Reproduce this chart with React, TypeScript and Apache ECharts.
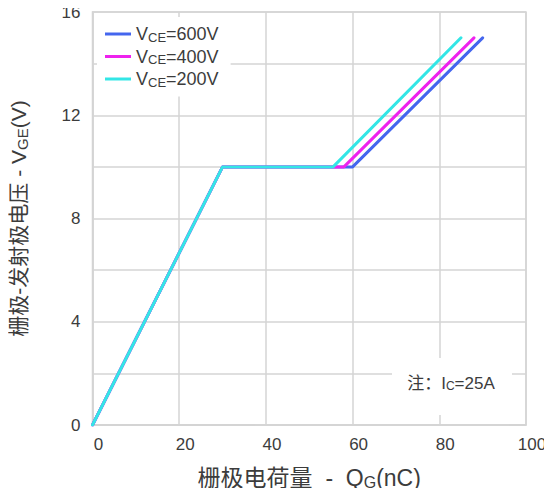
import React, { useEffect, useRef } from "react";
import * as echarts from "echarts";

const seriesNames = ["600", "400", "200"];
const seriesColors = ["#4466ee", "#ee22ee", "#33e6e6"];
const vce600: [number, number][] = [[0, 0], [30, 10], [60, 10], [90, 15]];
const vce400: [number, number][] = [[0, 0], [30, 10], [58, 10], [88, 15]];
const vce200: [number, number][] = [[0, 0], [30, 10], [55.5, 10], [85, 15]];
const xTicks = [0, 20, 40, 60, 80, 100];
const yLabelValues = [0, 4, 8, 12, 16];

const TEXT = "#3c3c3c";
const GRIDC = "#d4d4d4";

export default function App() {
  const ref = useRef<HTMLDivElement>(null);
  useEffect(() => {
    if (!ref.current) return;
    const chart = echarts.init(ref.current, undefined, { renderer: "svg" });
    const datasets = [vce600, vce400, vce200];
    const subStyle = { fontSize: 12, fontFamily: "Liberation Sans, Arial, sans-serif", color: TEXT, padding: [7, 0, 0, 0] };
    chart.setOption({
      animation: false,
      backgroundColor: "#fff",
      textStyle: { fontFamily: "Liberation Sans, Arial, Noto Sans CJK SC, sans-serif" },
      grid: {
        left: 92, right: 26, top: 12, bottom: 71,
        show: true, borderColor: GRIDC, borderWidth: 1.5, backgroundColor: "transparent",
      },
      legend: {
        orient: "vertical",
        left: 97, top: 17,
        backgroundColor: "#fff",
        padding: [8, 12, 8, 8],
        itemWidth: 26, itemHeight: 3, itemGap: 4,
        icon: "rect",
        data: seriesNames,
        formatter: (n: string) => `V{sub|CE}=${n}V`,
        textStyle: {
          fontSize: 18, color: TEXT, lineHeight: 18,
          fontFamily: "Liberation Sans, Arial, sans-serif",
          rich: { sub: { ...subStyle, fontSize: 13, padding: [6, 0, 0, 0] } },
        },
      },
      xAxis: {
        type: "value", min: 0, max: 100, interval: 20,
        axisLine: { show: true, lineStyle: { color: GRIDC, width: 1.5 } },
        axisTick: { show: false },
        splitLine: { show: true, lineStyle: { color: GRIDC, width: 1.5 } },
        axisLabel: {
          color: TEXT, fontSize: 17, margin: 11, padding: [0, 0, 0, 12],
          formatter: (v: number) => (xTicks.includes(v) ? String(v) : ""),
        },
        name: "栅极电荷量  -  Q{sub|G}(nC)",
        nameLocation: "middle", nameGap: 41,
        nameTextStyle: {
          fontSize: 23, color: TEXT,
          fontFamily: "Liberation Sans, Arial, Noto Sans CJK SC, sans-serif",
          rich: { sub: { ...subStyle, fontSize: 16, padding: [8, 0, 0, 0] } },
        },
      },
      yAxis: {
        type: "value", min: 0, max: 16, interval: 2,
        axisLine: { show: true, lineStyle: { color: GRIDC, width: 1.5 } },
        axisTick: { show: false },
        splitLine: { show: true, lineStyle: { color: GRIDC, width: 1.5 } },
        axisLabel: {
          color: TEXT, fontSize: 17, margin: 12,
          formatter: (v: number) => (yLabelValues.includes(v) ? String(v) : ""),
        },
        name: "栅极-发射极电压 - V{sub|GE}(V)",
        nameLocation: "middle", nameGap: 63, nameRotate: 90,
        nameTextStyle: {
          fontSize: 21, color: TEXT,
          fontFamily: "Liberation Sans, Arial, Noto Sans CJK SC, sans-serif",
          rich: { sub: { ...subStyle, fontSize: 15, padding: [7, 0, 0, 0] } },
        },
      },
      series: seriesNames.map((n, i) => ({
        name: n,
        type: "line",
        data: datasets[i],
        showSymbol: false,
        symbol: "none",
        color: seriesColors[i],
        lineStyle: { width: 3, color: seriesColors[i], cap: "round", join: "round" },
        z: 3 + i,
      })),
      graphic: [
        {
          type: "rect", z: 10,
          shape: { x: 392, y: 358, width: 120, height: 57 },
          style: { fill: "#fff" },
        },
        {
          type: "text", z: 11, x: 451, y: 383,
          style: {
            text: "注：I{sub|C}=25A",
            fontSize: 17, fill: TEXT, align: "center", verticalAlign: "middle",
            fontFamily: "Liberation Sans, Arial, Noto Sans CJK SC, sans-serif",
            rich: { sub: { fontSize: 12, fill: TEXT, padding: [6, 0, 0, 0], fontFamily: "Liberation Sans, Arial, sans-serif" } },
          },
        },
      ],
    });
    return () => chart.dispose();
  }, []);
  return <div ref={ref} style={{ width: 552, height: 496, margin: -8 }} />;
}
